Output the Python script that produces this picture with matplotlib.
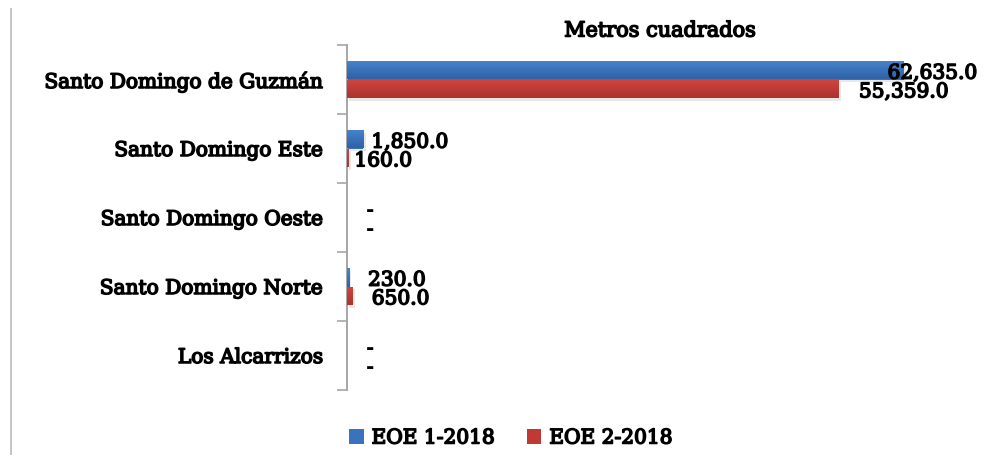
import matplotlib
matplotlib.use("Agg")
import matplotlib.pyplot as plt
import numpy as np
from matplotlib.colors import LinearSegmentedColormap
from matplotlib.patches import Patch
import matplotlib.patheffects as pe

# Data
municipios = ["Santo Domingo de Guzmán", "Santo Domingo Este", "Santo Domingo Oeste",
              "Santo Domingo Norte", "Los Alcarrizos"]
series_names = ["EOE 1-2018", "EOE 2-2018"]
eoe1 = [62635.0, 1850.0, 0.0, 230.0, 0.0]
eoe2 = [55359.0, 160.0, 0.0, 650.0, 0.0]
title = "Metros cuadrados"

# Styling
FONT = "DejaVu Serif"
plt.rcParams["font.family"] = [FONT]
colors_top = ["#4784cf", "#d2443e"]
colors_bot = ["#2f62a6", "#ab3430"]
colors_mid = ["#3a72bd", "#c03a35"]
bar_h = 0.27
# horizontal label offsets (pixels) from the end of each bar
label_dx = [[-16, 8, 19, 19, 19], [20, 6, 19, 19, 19]]
# slightly heavier than regular weight
heavy = [pe.withStroke(linewidth=1.1, foreground="black")]

fig = plt.figure(figsize=(9.85, 4.55), dpi=100)
ax = fig.add_axes([347 / 985, 1 - 390 / 455, 622 / 985, 345 / 455])

y = np.arange(len(municipios))
for s, (vals, sign) in enumerate([(eoe1, -1), (eoe2, 1)]):
    bars = ax.barh(y + sign * bar_h / 2, vals, height=bar_h, color=colors_mid[s],
                   edgecolor="none", zorder=2)
    cmap = LinearSegmentedColormap.from_list("g%d" % s, [colors_top[s], colors_bot[s]])
    grad = np.linspace(0, 1, 64).reshape(-1, 1)
    for b, v in zip(bars, vals):
        if v <= 0:
            continue
        b.set_path_effects([pe.SimplePatchShadow(offset=(1.5, -2), alpha=0.18,
                                                 shadow_rgbFace="#808080"), pe.Normal()])
        x0, y0 = b.get_x(), b.get_y()
        im = ax.imshow(grad, extent=[x0, x0 + b.get_width(), y0 + b.get_height(), y0],
                       aspect="auto", cmap=cmap, zorder=3, interpolation="bilinear")
        im.set_clip_path(b)

    for i, (b, v) in enumerate(zip(bars, vals)):
        yc = b.get_y() + b.get_height() / 2
        if v == 0:
            t = ax.annotate("-", xy=(0, yc), xytext=(23, -2), textcoords="offset pixels",
                            ha="center", va="center", fontsize=14.5, fontweight="bold",
                            color="black", zorder=5)
        else:
            t = ax.annotate(f"{v:,.1f}", xy=(v, yc), xytext=(label_dx[s][i], -3),
                            textcoords="offset pixels", ha="left", va="center",
                            fontsize=14.5, color="black", zorder=5,
                            annotation_clip=False)
            t.set_path_effects(heavy)

ax.set_xlim(0, 70000)
ax.set_ylim(len(municipios) - 0.5, -0.5)
ax.set_xticks([])
ax.set_yticks(np.arange(len(municipios) + 1) - 0.5)
ax.set_yticklabels([])
ax.set_yticks(y, minor=True)
ax.set_yticklabels(municipios, minor=True, fontsize=14.5)
for lab in ax.get_yticklabels(minor=True):
    lab.set_path_effects(heavy)
ax.tick_params(axis="y", which="major", length=7, width=1.2, color="#a6a6a6", direction="out")
ax.tick_params(axis="y", which="minor", length=0, pad=17)
for sp in ["top", "right", "bottom"]:
    ax.spines[sp].set_visible(False)
ax.spines["left"].set_color("#a6a6a6")
ax.spines["left"].set_linewidth(1.4)
ax.patch.set_alpha(0)

tt = fig.text(660 / 985, 1 - 31 / 455, title, ha="center", va="center", fontsize=15)
tt.set_path_effects(heavy)

# left frame line of the chart area
fig.add_artist(plt.Line2D([11 / 985, 11 / 985], [0, 1 - 9 / 455], color="#bfbfbf",
                          linewidth=1.3))

handles = [Patch(facecolor=colors_mid[0]), Patch(facecolor=colors_mid[1])]
leg = fig.legend(handles, series_names, loc="center", bbox_to_anchor=(511 / 985, 1 - 438 / 455),
                 ncol=2, frameon=False, prop={"size": 14.5},
                 handlelength=0.7, handleheight=0.7, handletextpad=0.4, columnspacing=1.6)
for t in leg.get_texts():
    t.set_path_effects(heavy)

fig.savefig("out.png", dpi=100)
